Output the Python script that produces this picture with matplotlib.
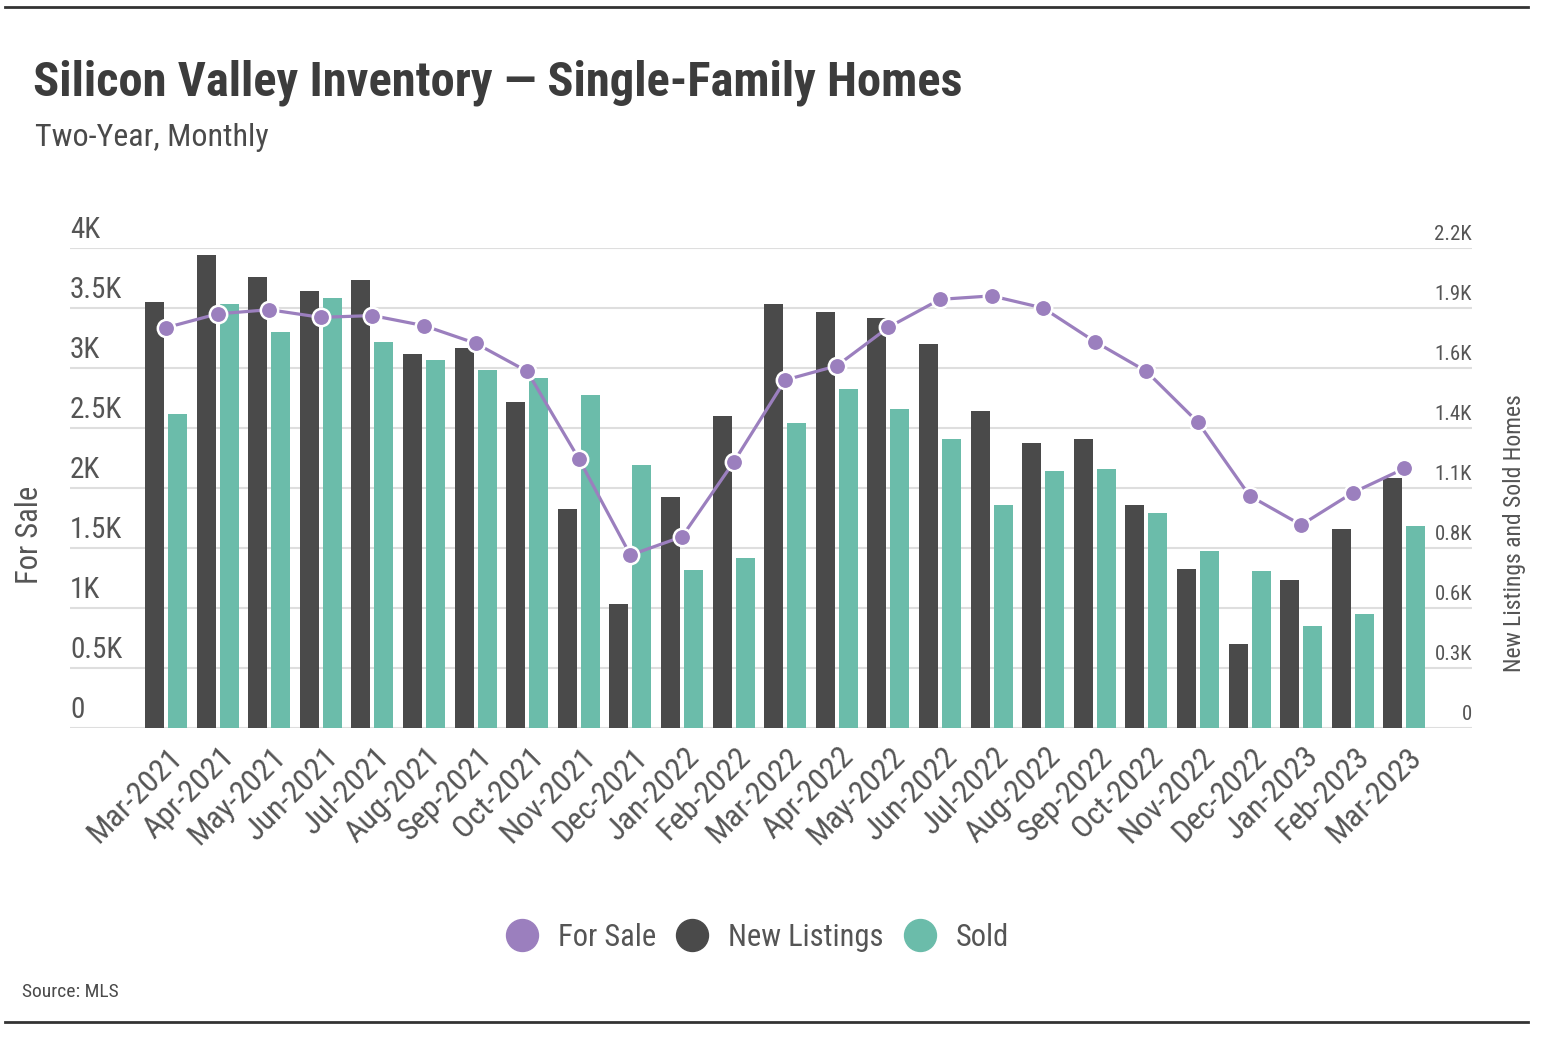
import numpy as np
import matplotlib
matplotlib.use("Agg")
import matplotlib.pyplot as plt
import matplotlib.transforms as mtransforms
from matplotlib.lines import Line2D
from matplotlib import font_manager

# ---------------- data ----------------
months = ['Mar-2021', 'Apr-2021', 'May-2021', 'Jun-2021', 'Jul-2021', 'Aug-2021',
          'Sep-2021', 'Oct-2021', 'Nov-2021', 'Dec-2021', 'Jan-2022', 'Feb-2022',
          'Mar-2022', 'Apr-2022', 'May-2022', 'Jun-2022', 'Jul-2022', 'Aug-2022',
          'Sep-2022', 'Oct-2022', 'Nov-2022', 'Dec-2022', 'Jan-2023', 'Feb-2023',
          'Mar-2023']
for_sale = [3336, 3451, 3486, 3422, 3437, 3353, 3206, 2972, 2244, 1441, 1594, 2215,
            2900, 3018, 3339, 3572, 3601, 3500, 3220, 2972, 2547, 1935, 1692, 1961, 2163]
new_listings = [1953, 2166, 2065, 2001, 2055, 1713, 1741, 1493, 1004, 570, 1059, 1428,
                1944, 1907, 1880, 1760, 1453, 1307, 1326, 1021, 727, 386, 680, 912, 1147]
sold = [1437, 1944, 1817, 1972, 1769, 1687, 1642, 1604, 1528, 1205, 726, 780,
        1399, 1555, 1464, 1326, 1021, 1178, 1186, 985, 810, 718, 467, 522, 927]

left_ticks = [0, 500, 1000, 1500, 2000, 2500, 3000, 3500, 4000]
left_labels = ['0', '0.5K', '1K', '1.5K', '2K', '2.5K', '3K', '3.5K', '4K']
right_ticks = [0, 275, 550, 825, 1100, 1375, 1650, 1925, 2200]
right_labels = ['0', '0.3K', '0.6K', '0.8K', '1.1K', '1.4K', '1.6K', '1.9K', '2.2K']

series_names = ['For Sale', 'New Listings', 'Sold']

# ---------------- style ----------------
PURPLE = '#9b7fbe'
DARK = '#4a4a4a'
TEAL = '#6bbcaa'
TXT = '#3c3c3c'
TICK = '#555555'
GRID = '#dedede'

available = {f.name for f in font_manager.fontManager.ttflist}
family = 'DejaVu Sans'
for cand in ['Liberation Sans Narrow', 'Roboto Condensed', 'Open Sans Condensed',
             'Liberation Sans', 'Roboto']:
    if cand in available:
        family = cand
        break
plt.rcParams['font.family'] = [family, 'DejaVu Sans']

W, H = 1542, 1040
fig = plt.figure(figsize=(W / 100, H / 100), dpi=100)
fig.patch.set_facecolor('white')

ax = fig.add_axes([70 / W, 1 - 728 / H, 1402 / W, 480 / H])
ax2 = ax.twinx()

x = np.arange(len(months))
bw = 0.37
off = 0.223
ax2.bar(x - off, new_listings, width=bw, color=DARK, zorder=2)
ax2.bar(x + off, sold, width=bw, color=TEAL, zorder=2)
ax2.set_ylim(0, 2200)
ax2.yaxis.grid(True, color=GRID, lw=1.5)
ax2.set_axisbelow(True)

ax.plot(x, for_sale, color=PURPLE, lw=2.3, marker='o', ms=12.5, mfc=PURPLE,
        mec='white', mew=1.8, zorder=3, clip_on=False)
ax.set_ylim(0, 4000)
ax.set_xlim(-1.86, 25.31)
ax.set_zorder(ax2.get_zorder() + 1)
ax.patch.set_visible(False)

for a in (ax, ax2):
    for s in a.spines.values():
        s.set_visible(False)

# left tick labels (inside, above gridlines)
ax.set_yticks(left_ticks, left_labels)
ax.tick_params(axis='y', length=0, pad=0, labelsize=21, labelcolor=TICK)
up_l = mtransforms.ScaledTranslation(0, 0.10, fig.dpi_scale_trans)
for lbl in ax.get_yticklabels():
    lbl.set_ha('left')
    lbl.set_va('baseline')
    lbl.set_transform(lbl.get_transform() + up_l)

ax2.set_yticks(right_ticks, right_labels)
ax2.tick_params(axis='y', length=0, pad=0, labelsize=15, labelcolor=TICK)
up_r = mtransforms.ScaledTranslation(0, 0.08, fig.dpi_scale_trans)
for lbl in ax2.get_yticklabels():
    lbl.set_ha('right')
    lbl.set_va('baseline')
    lbl.set_transform(lbl.get_transform() + up_r)

# x tick labels
ax.set_xticks(x, months)
ax.tick_params(axis='x', length=0, pad=10, labelsize=23, labelcolor=TICK)
shift_x = mtransforms.ScaledTranslation(0.02, 0, fig.dpi_scale_trans)
for lbl in ax.get_xticklabels():
    lbl.set_rotation(45)
    lbl.set_ha('right')
    lbl.set_va('top')
    lbl.set_rotation_mode('anchor')
    lbl.set_transform(lbl.get_transform() + shift_x)

# axis titles
ax.set_ylabel('For Sale', fontsize=22, color=TICK)
ax.yaxis.set_label_coords((44 - 70) / 1402, (728 - 535) / 480)
ax2.set_ylabel('New Listings and Sold Homes', fontsize=17, color=TICK, rotation=90)
ax2.yaxis.set_label_coords((1503 - 70) / 1402, (728 - 533) / 480)

# titles
fig.text(33 / W, 1 - 95 / H, 'Silicon Valley Inventory \u2014 Single-Family Homes',
         fontsize=35, fontweight='bold', color=TXT, va='baseline', ha='left')
fig.text(35 / W, 1 - 146 / H, 'Two-Year, Monthly', fontsize=23, color='#4a4a4a',
         va='baseline', ha='left')
fig.text(22 / W, 1 - 997 / H, 'Source: MLS', fontsize=14, color='#4a4a4a',
         va='baseline', ha='left')

# legend
handles = [Line2D([], [], ls='', marker='o', ms=23, mfc=c, mec=c)
           for c in (PURPLE, DARK, TEAL)]
leg = fig.legend(handles, series_names, ncol=3, loc='center',
                 bbox_to_anchor=(756 / W, 1 - 937 / H), frameon=False,
                 fontsize=22, handletextpad=0.58, columnspacing=0.58,
                 handlelength=1.2, labelcolor=TICK)

# frame lines top and bottom
fig.add_artist(Line2D([5 / W, 1528 / W], [1 - 7 / H, 1 - 7 / H], color='#333333', lw=2))
fig.add_artist(Line2D([5 / W, 1528 / W], [1 - 1022 / H, 1 - 1022 / H], color='#333333', lw=2))

fig.savefig('out.png', dpi=100, facecolor='white')
